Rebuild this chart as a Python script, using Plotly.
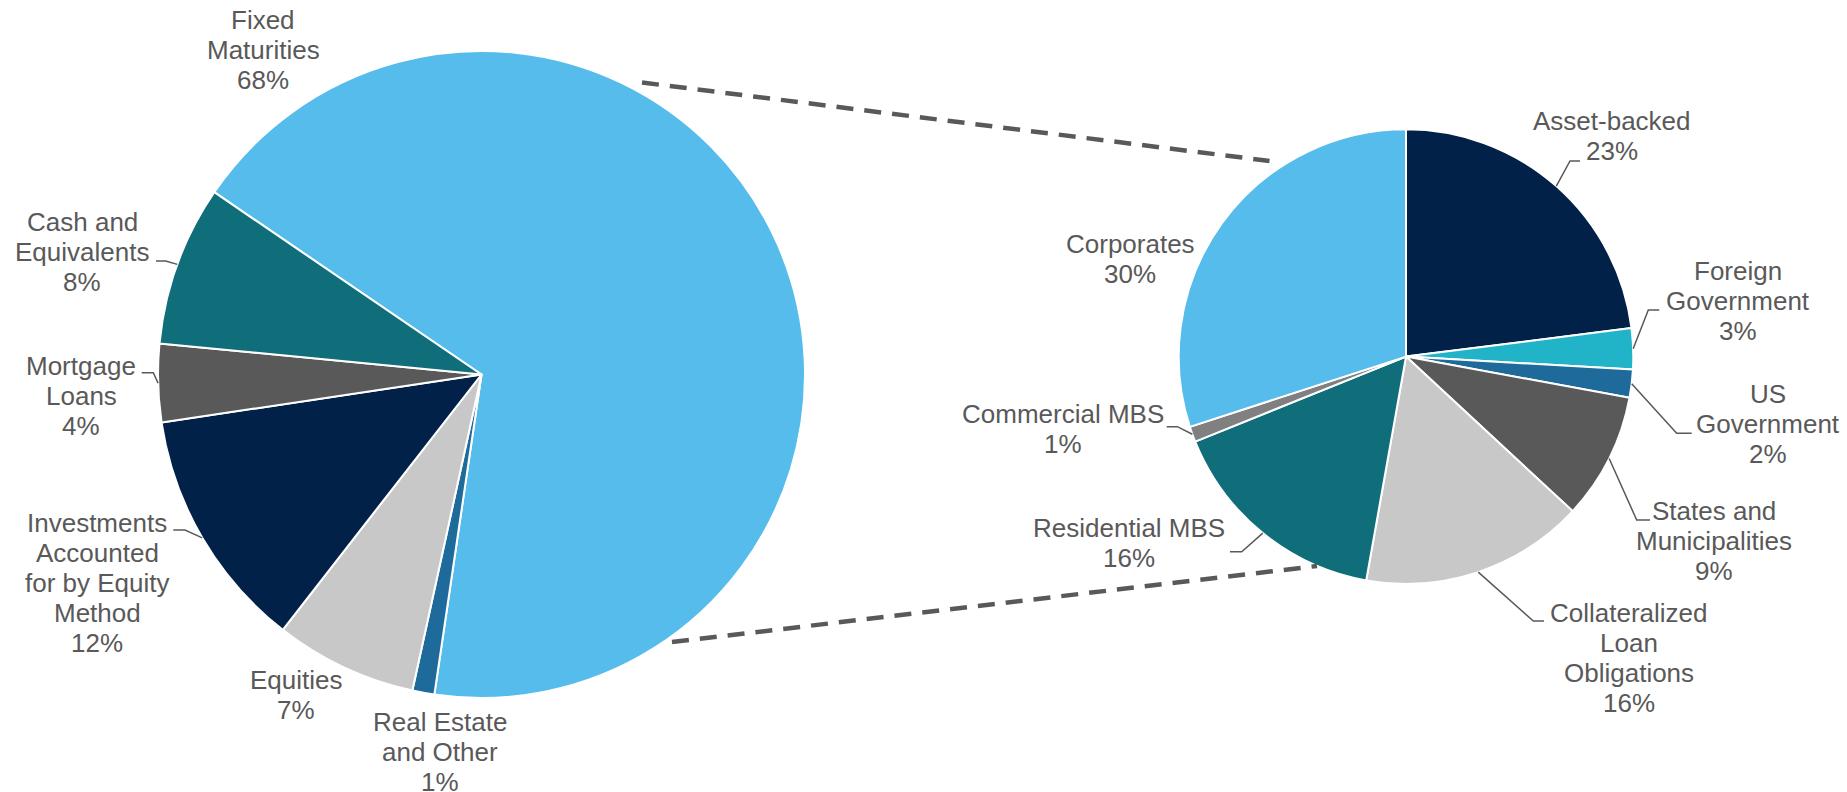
import math
import plotly.graph_objects as go

# ---------------- data ----------------
left_labels = ["Fixed Maturities", "Real Estate and Other", "Equities",
               "Investments Accounted for by Equity Method", "Mortgage Loans",
               "Cash and Equivalents"]
left_values = [67.8, 1.1, 7.1, 12.1, 3.9, 8.0]
left_lines = [["Fixed", "Maturities"], ["Real Estate", "and Other"], ["Equities"],
              ["Investments", "Accounted", "for by Equity", "Method"],
              ["Mortgage", "Loans"], ["Cash and", "Equivalents"]]

right_labels = ["Asset-backed", "Foreign Government", "US Government",
                "States and Municipalities", "Collateralized Loan Obligations",
                "Residential MBS", "Commercial MBS", "Corporates"]
right_values = [23.0, 2.9, 2.0, 9.0, 15.9, 16.1, 1.1, 30.0]
right_lines = [["Asset-backed"], ["Foreign", "Government"], ["US", "Government"],
               ["States and", "Municipalities"], ["Collateralized", "Loan", "Obligations"],
               ["Residential MBS"], ["Commercial MBS"], ["Corporates"]]

# ---------------- styles / layout ----------------
W, H = 1847, 792
NAVY, LBLUE, TEAL, DGRAY, LGRAY = "#012148", "#55BCEB", "#0F6E7A", "#595959", "#C8C8C8"
BLUE, CYAN, MGRAY = "#1D6A9B", "#21B4C8", "#808080"
left_colors = [LBLUE, BLUE, LGRAY, NAVY, DGRAY, TEAL]
right_colors = [NAVY, CYAN, BLUE, DGRAY, LGRAY, TEAL, MGRAY, LBLUE]
TEXT = "#595959"
FONT = "Liberation Sans, Arial, sans-serif"
FS = 26
LINE_H = 30

LEFT_PIE = dict(cx=481.5, cy=374.5, r=323.5, rotation=-55.7)
RIGHT_PIE = dict(cx=1406.0, cy=356.6, r=227.3, rotation=0.0)

# label placement: (center x, first baseline y, leader elbow (x, y) or None, leader text-end x)
left_place = [(263, 29.3, None, None), (439.5, 731, None, None), (296, 689.3, None, None),
              (97, 531.7, (185, 530), 173.3), (81, 375, (153.3, 372.7), 141.7),
              (82, 230.7, (165.7, 261), 156)]
right_place = [(1612, 130, (1570, 161), 1580), (1737.5, 280, (1648.3, 310), 1659.3),
               (1767.5, 402.7, (1676.7, 433.3), 1691.7), (1714, 520, (1636.7, 520), 1650),
               (1629, 621.7, (1533.3, 621), 1544), (1129, 536.7, (1241.7, 551.7), 1230),
               (1063, 422.7, (1177.3, 426.7), 1166.7), (1130, 253.3, None, None)]

connectors = [((642, 82.5), (1269.5, 161)), ((672, 642), (1317, 566))]


def px(x):
    return x / W


def py(y):
    return 1 - y / H


def domain(p):
    return dict(x=[px(p["cx"] - p["r"]), px(p["cx"] + p["r"])],
                y=[py(p["cy"] + p["r"]), py(p["cy"] - p["r"])])


fig = go.Figure()
for labels, values, colors, geo in [(left_labels, left_values, left_colors, LEFT_PIE),
                                    (right_labels, right_values, right_colors, RIGHT_PIE)]:
    fig.add_trace(go.Pie(labels=labels, values=values, sort=False, direction="clockwise",
                         rotation=geo["rotation"], textinfo="none", showlegend=False,
                         marker=dict(colors=colors, line=dict(color="white", width=2)),
                         domain=domain(geo), hoverinfo="label+percent"))

annotations = []
shapes = []
for values, lines_list, places, geo in [(left_values, left_lines, left_place, LEFT_PIE),
                                         (right_values, right_lines, right_place, RIGHT_PIE)]:
    total = sum(values)
    cum = 0.0
    for v, lines, (cx, base, elbow, tend) in zip(values, lines_list, places):
        mid = geo["rotation"] + 360 * (cum + v / 2) / total
        cum += v
        all_lines = lines + [f"{round(100 * v / total)}%"]
        for i, t in enumerate(all_lines):
            annotations.append(dict(x=px(cx), y=py(base + i * LINE_H - 9), xref="paper", yref="paper",
                                    text=t, showarrow=False, xanchor="center", yanchor="middle",
                                    font=dict(family=FONT, size=FS, color=TEXT)))
        if elbow is not None:
            a = math.radians(mid)
            ex = geo["cx"] + geo["r"] * math.sin(a)
            ey = geo["cy"] - geo["r"] * math.cos(a)
            path = (f"M {px(ex)},{py(ey)} L {px(elbow[0])},{py(elbow[1])} "
                    f"L {px(tend)},{py(elbow[1])}")
            shapes.append(dict(type="path", xref="paper", yref="paper", path=path,
                               line=dict(color=TEXT, width=1.5)))

for (x0, y0), (x1, y1) in connectors:
    shapes.append(dict(type="line", xref="paper", yref="paper",
                       x0=px(x0), y0=py(y0), x1=px(x1), y1=py(y1),
                       line=dict(color=TEXT, width=4.5, dash="17px,11px")))

fig.update_layout(width=W, height=H, margin=dict(l=0, r=0, t=0, b=0),
                  paper_bgcolor="white", plot_bgcolor="white",
                  annotations=annotations, shapes=shapes, showlegend=False)

fig.write_html("out.html", config={"displayModeBar": False},
               post_script="document.body.style.margin='0';document.body.style.overflow='hidden';")
